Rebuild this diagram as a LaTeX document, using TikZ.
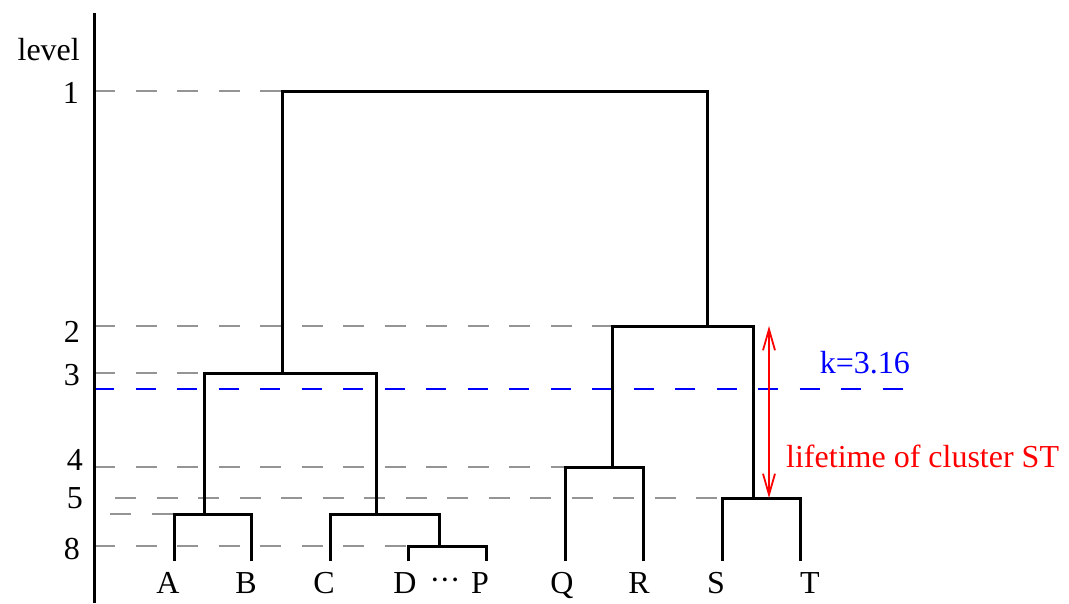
\documentclass[tikz,border=0pt]{standalone}
\usepackage{fontspec}
\setmainfont{Liberation Serif}
\usetikzlibrary{arrows.meta}
\begin{document}
\begin{tikzpicture}[x=1pt,y=-1pt,
  tree/.style={draw=black, line width=3pt, line join=miter},
  guide/.style={draw=black!42, line width=2.5pt, dash pattern=on 21pt off 20.5pt},
  cut/.style={draw=blue, line width=2.5pt, dash pattern=on 20pt off 21.5pt},
  lbl/.style={font=\fontsize{32}{35}\selectfont, inner sep=0pt, anchor=base},
  lvl/.style={font=\fontsize{32}{35}\selectfont, inner sep=0pt, anchor=base east},
  life/.style={draw=red, line width=2.3pt, {Straight Barb[length=21pt,width=12pt,line width=1.8pt]}-{Straight Barb[length=21pt,width=12pt,line width=1.8pt]}},
]
\useasboundingbox (0,0) rectangle (1069,603);

% axis coordinates
\coordinate (ax0) at (94,13);
\coordinate (axE) at (94,603);
\coordinate (ax1) at (94,91);
\coordinate (ax2) at (94,326);
\coordinate (ax3) at (94,373);
\coordinate (axk) at (94,389);
\coordinate (ax4) at (94,467);
\coordinate (ax5) at (115,498);
\coordinate (ax6) at (110,514);
\coordinate (ax8) at (94,546);
\coordinate (kend) at (910,389);

% leaf tops
\coordinate (A) at (174,561);
\coordinate (B) at (251,561);
\coordinate (C) at (330,561);
\coordinate (D) at (408,561);
\coordinate (P) at (486,561);
\coordinate (Q) at (565,561);
\coordinate (R) at (643,561);
\coordinate (S) at (722,561);
\coordinate (T) at (800,561);

% merge points (where each merged cluster rises)
\coordinate (ab) at (204,514);
\coordinate (dp) at (439,546);
\coordinate (cdp) at (376,514);
\coordinate (abp) at (282,373);
\coordinate (qr) at (612,467);
\coordinate (st) at (753,498);
\coordinate (qrst) at (707,326);
\coordinate (top) at (282,91);
\coordinate (topR) at (707,91);

% guide lines
\draw[guide] (ax1) -- (top);
\draw[guide] (ax2) -- (qr |- ax2);
\draw[guide] (ax3) -- (ab |- ax3);
\draw[guide] (ax4) -- (Q |- ax4);
\draw[guide] (ax5) -- (S |- ax5);
\draw[guide] (ax6) -- (A |- ax6);
\draw[guide] (ax8) -- (D |- ax8);
\draw[cut] (axk) -- (kend);

% axis
\draw[line width=3pt] (ax0) -- (axE);

% tree
\draw[tree] (A) |- (ab) -| (B);
\draw[tree] (D) |- (dp) -| (P);
\draw[tree] (C) |- (cdp) -| (dp);
\draw[tree] (ab) |- (abp) -| (cdp);
\draw[tree] (Q) |- (qr) -| (R);
\draw[tree] (S) |- (st) -| (T);
\draw[tree] (qr) |- (qrst) -| (st);
\draw[tree] (abp) -- (top) -- (topR) -- (qrst);

% lifetime arrow
\coordinate (lt1) at (769,326);
\coordinate (lt2) at (769,498);
\draw[life] (lt1) -- (lt2);
\node[lbl, anchor=base west, text=red] (lifetxt) at (786,467) {lifetime of cluster ST};
\node[lbl, anchor=base east, text=blue] (ktxt) at (910,373) {k=3.16};

% level labels
\node[lvl] (lvlt) at (80,60) {level};
\node[lvl] (l1) at (79,103) {1};
\node[lvl] (l2) at (80,342) {2};
\node[lvl] (l3) at (80,385) {3};
\node[lvl] (l4) at (83,470) {4};
\node[lvl] (l5) at (83,508) {5};
\node[lvl] (l8) at (80,559) {8};

% leaf labels
\node[lbl] (tA) at (168,593) {A};
\node[lbl] (tB) at (246,593) {B};
\node[lbl] (tC) at (324,593) {C};
\node[lbl] (tD) at (405,593) {D};
\node[lbl] (tdots) at (445,593) {\raisebox{3pt}{\textperiodcentered\kern-0.5pt\textperiodcentered\kern-0.5pt\textperiodcentered}};
\node[lbl] (tP) at (480,593) {P};
\node[lbl] (tQ) at (562,593) {Q};
\node[lbl] (tR) at (639,593) {R};
\node[lbl] (tS) at (716,593) {S};
\node[lbl] (tT) at (810,593) {T};
\end{tikzpicture}
\end{document}
